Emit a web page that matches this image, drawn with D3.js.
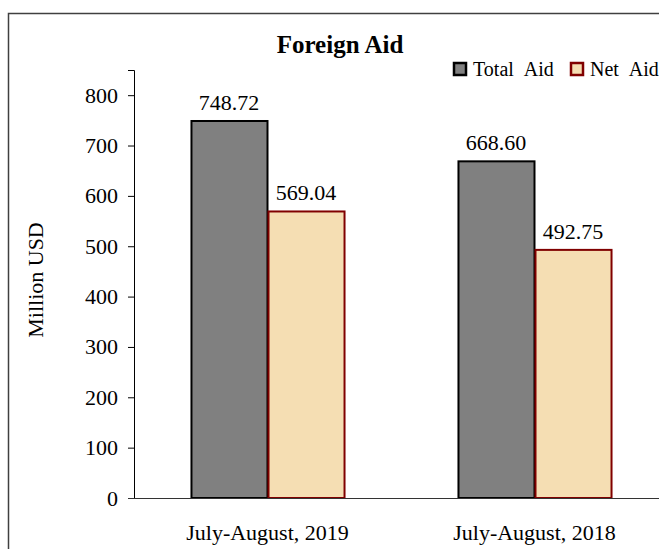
<!DOCTYPE html>
<html>
<head>
<meta charset="utf-8">
<script src="https://cdn.jsdelivr.net/npm/d3@7"></script>
<style>
  body { margin: 0; background: #fff; }
  svg text { font-family: "Liberation Serif", "DejaVu Serif", serif; fill: #000; }
</style>
</head>
<body>
<svg id="chart" width="659" height="549"></svg>
<script>
// data
const categories = ["July-August, 2019", "July-August, 2018"];
const seriesNames = ["Total Aid", "Net Aid"];
const totalAid = [748.72, 668.60];
const netAid = [569.04, 492.75];
const yTicks = [0, 100, 200, 300, 400, 500, 600, 700, 800];

const fills = ["#808080", "#f5deb3"];
const strokes = ["#000000", "#800000"];

const svg = d3.select("#chart");

// outer frame (clipped on right / bottom like the source)
svg.append("rect")
    .attr("x", 8.5).attr("y", 13.5)
    .attr("width", 700).attr("height", 600)
    .attr("fill", "none")
    .attr("stroke", "#404040")
    .attr("stroke-width", 1.5);

const plotLeft = 134, plotRight = 668, plotTop = 70, plotBottom = 498;

const x = d3.scaleBand()
    .domain(categories)
    .range([plotLeft, plotRight])
    .paddingInner(0.423)
    .paddingOuter(0.2115);

const xs = d3.scaleBand()
    .domain(seriesNames)
    .range([0, x.bandwidth()]);

const y = d3.scaleLinear()
    .domain([0, 850])
    .range([plotBottom, plotTop]);

// y axis
const yAxis = svg.append("g")
    .attr("transform", `translate(${plotLeft},0)`)
    .call(d3.axisLeft(y).tickValues(yTicks).tickSize(6).tickPadding(10));
yAxis.select(".domain").attr("stroke", "#000");
yAxis.selectAll(".tick line").attr("stroke", "#000");
yAxis.selectAll("text")
    .style("font-size", "22px")
    .style("font-family", "Liberation Serif");

// y title
svg.append("text")
    .attr("transform", `translate(43,280) rotate(-90)`)
    .attr("text-anchor", "middle")
    .style("font-size", "22px")
    .text("Million USD");

// bars
const data = categories.map((c, i) => ({cat: c, vals: [totalAid[i], netAid[i]]}));

const groups = svg.append("g")
    .selectAll("g")
    .data(data)
    .enter()
    .append("g")
    .attr("transform", d => `translate(${x(d.cat)},0)`);

groups.selectAll("rect")
    .data(d => d.vals.map((v, j) => ({name: seriesNames[j], v: v, j: j})))
    .enter()
    .append("rect")
    .attr("x", d => xs(d.name) + 1)
    .attr("y", d => y(d.v))
    .attr("width", xs.bandwidth() - 1)
    .attr("height", d => y(0) - y(d.v))
    .attr("fill", d => fills[d.j])
    .attr("stroke", d => strokes[d.j])
    .attr("stroke-width", 2);

groups.selectAll("text.val")
    .data(d => d.vals.map((v, j) => ({name: seriesNames[j], v: v})))
    .enter()
    .append("text")
    .attr("class", "val")
    .attr("x", d => xs(d.name) + xs.bandwidth() / 2)
    .attr("y", d => y(d.v) - 11)
    .attr("text-anchor", "middle")
    .style("font-size", "22px")
    .text(d => d.v.toFixed(2));

// x axis line
svg.append("line")
    .attr("x1", plotLeft - 6).attr("x2", 700)
    .attr("y1", plotBottom + 0.5).attr("y2", plotBottom + 0.5)
    .attr("stroke", "#333")
    .attr("stroke-width", 1.2);

// category labels
svg.append("g")
    .selectAll("text")
    .data(categories)
    .enter()
    .append("text")
    .attr("x", d => x(d) + x.bandwidth() / 2)
    .attr("y", 540)
    .attr("text-anchor", "middle")
    .style("font-size", "22px")
    .text(d => d);

// title
svg.append("text")
    .attr("x", 340)
    .attr("y", 53)
    .attr("text-anchor", "middle")
    .style("font-size", "25px")
    .style("font-weight", "bold")
    .text("Foreign Aid");

// legend
const legend = svg.append("g").attr("transform", "translate(453,62)");
const legX = [0, 117];
seriesNames.forEach((name, i) => {
    legend.append("rect")
        .attr("x", legX[i] + 1).attr("y", 1)
        .attr("width", 12).attr("height", 12)
        .attr("fill", fills[i])
        .attr("stroke", strokes[i])
        .attr("stroke-width", 2.5);
    legend.append("text")
        .attr("x", legX[i] + 20)
        .attr("y", 7)
        .attr("dy", "0.35em")
        .style("font-size", "20px")
        .style("word-spacing", "6px")
        .text(name);
});
</script>
</body>
</html>
